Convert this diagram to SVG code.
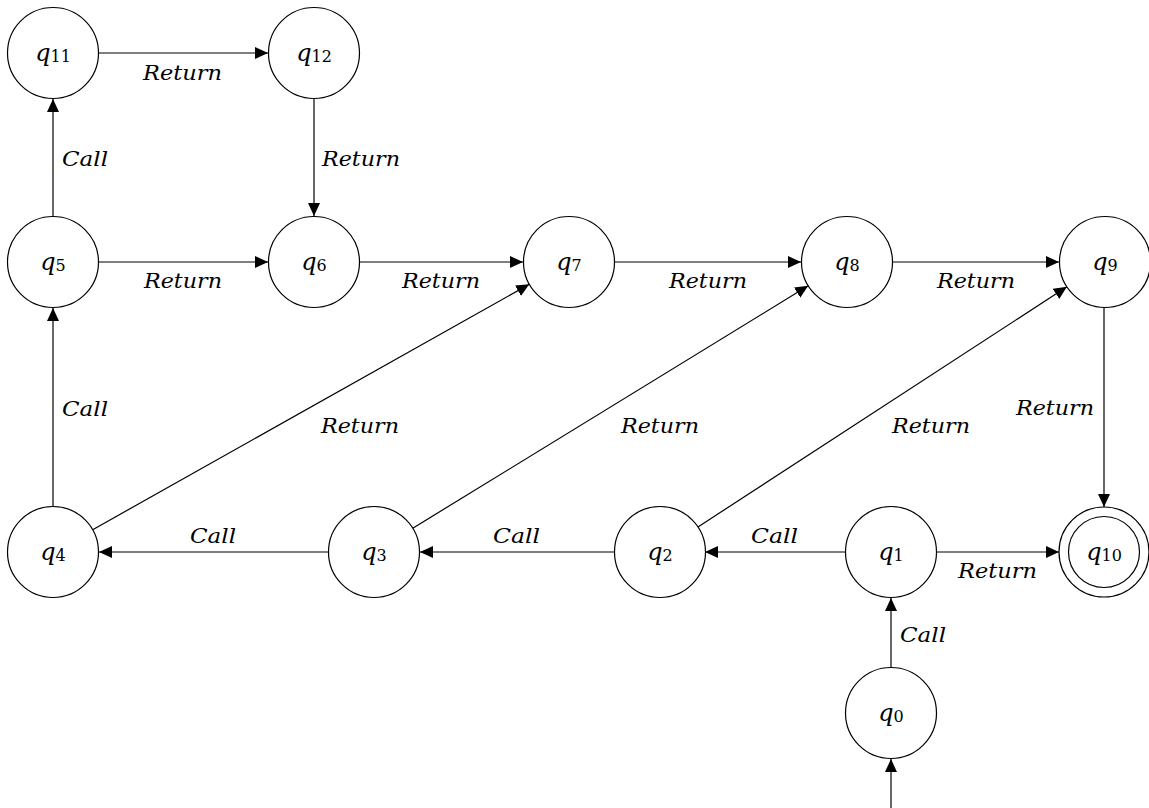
<svg xmlns="http://www.w3.org/2000/svg" width="1149" height="808" viewBox="0 0 1149 808">
  <style>
    .st { fill: #fff; stroke: #000; stroke-width: 1.2; }
    .ed { fill: none; stroke: #000; stroke-width: 1.2; marker-end: url(#ah); }
    .nm { font-family: "DejaVu Serif", "Liberation Serif", serif; font-size: 24px; font-style: italic; fill: #000; text-anchor: middle; }
    .nm .sub { font-size: 16px; font-style: normal; }
    .lb { font-family: "DejaVu Serif", "Liberation Serif", serif; font-size: 20px; font-style: italic; fill: #000; }
  </style>
  <defs>
    <marker id="ah" markerUnits="userSpaceOnUse" markerWidth="14" markerHeight="12" refX="13" refY="6" orient="auto">
      <path d="M0,0 L13,6 L0,12 z" fill="#000"/>
    </marker>
  </defs>
  <rect width="1149" height="808" fill="#fff"/>

  <!-- transitions -->
  <g id="edges">
    <line class="ed" x1="99" y1="53" x2="268" y2="53"/>
    <line class="ed" x1="314" y1="99" x2="314" y2="216"/>
    <line class="ed" x1="53" y1="216" x2="53" y2="99"/>
    <line class="ed" x1="99" y1="262" x2="268" y2="262"/>
    <line class="ed" x1="360" y1="262" x2="523" y2="262"/>
    <line class="ed" x1="615" y1="262" x2="801" y2="262"/>
    <line class="ed" x1="893" y1="262" x2="1059" y2="262"/>
    <line class="ed" x1="1104" y1="308" x2="1104" y2="507"/>
    <line class="ed" x1="53" y1="506" x2="53" y2="308"/>
    <line class="ed" x1="92.7" y1="529.7" x2="529.3" y2="284.3"/>
    <line class="ed" x1="412.8" y1="528.2" x2="808.2" y2="285.8"/>
    <line class="ed" x1="697.6" y1="527.2" x2="1066.9" y2="286.8"/>
    <line class="ed" x1="328" y1="552" x2="99" y2="552"/>
    <line class="ed" x1="614" y1="552" x2="420" y2="552"/>
    <line class="ed" x1="846" y1="552" x2="705" y2="552"/>
    <line class="ed" x1="937" y1="552" x2="1059" y2="552"/>
    <line class="ed" x1="891" y1="668" x2="891" y2="598"/>
    <line class="ed" x1="891" y1="808" x2="891" y2="759"/>

    <text class="lb" x="143" y="80" textLength="79" lengthAdjust="spacingAndGlyphs">Return</text>
    <text class="lb" x="322" y="166" textLength="78" lengthAdjust="spacingAndGlyphs">Return</text>
    <text class="lb" x="62" y="166" textLength="46" lengthAdjust="spacingAndGlyphs">Call</text>
    <text class="lb" x="144" y="288" textLength="78" lengthAdjust="spacingAndGlyphs">Return</text>
    <text class="lb" x="402" y="288" textLength="78" lengthAdjust="spacingAndGlyphs">Return</text>
    <text class="lb" x="669" y="288" textLength="78" lengthAdjust="spacingAndGlyphs">Return</text>
    <text class="lb" x="937" y="288" textLength="78" lengthAdjust="spacingAndGlyphs">Return</text>
    <text class="lb" x="1016" y="415" textLength="78" lengthAdjust="spacingAndGlyphs">Return</text>
    <text class="lb" x="62" y="416" textLength="46" lengthAdjust="spacingAndGlyphs">Call</text>
    <text class="lb" x="321" y="433" textLength="78" lengthAdjust="spacingAndGlyphs">Return</text>
    <text class="lb" x="621" y="433" textLength="78" lengthAdjust="spacingAndGlyphs">Return</text>
    <text class="lb" x="892" y="433" textLength="78" lengthAdjust="spacingAndGlyphs">Return</text>
    <text class="lb" x="190" y="543" textLength="46" lengthAdjust="spacingAndGlyphs">Call</text>
    <text class="lb" x="493" y="543" textLength="47" lengthAdjust="spacingAndGlyphs">Call</text>
    <text class="lb" x="751" y="543" textLength="47" lengthAdjust="spacingAndGlyphs">Call</text>
    <text class="lb" x="958" y="578" textLength="79" lengthAdjust="spacingAndGlyphs">Return</text>
    <text class="lb" x="900" y="642" textLength="46" lengthAdjust="spacingAndGlyphs">Call</text>
  </g>

  <!-- states -->
  <g id="q11"><circle class="st" cx="53" cy="53" r="45.5"/><text class="nm" x="53" y="61">q<tspan class="sub" dy="1">11</tspan></text></g>
  <g id="q12"><circle class="st" cx="314" cy="53" r="45.5"/><text class="nm" x="314" y="61">q<tspan class="sub" dy="1">12</tspan></text></g>
  <g id="q5"><circle class="st" cx="53" cy="262" r="45.5"/><text class="nm" x="53" y="270">q<tspan class="sub" dy="1">5</tspan></text></g>
  <g id="q6"><circle class="st" cx="314" cy="262" r="45.5"/><text class="nm" x="314" y="270">q<tspan class="sub" dy="1">6</tspan></text></g>
  <g id="q7"><circle class="st" cx="569" cy="262" r="45.5"/><text class="nm" x="569" y="270">q<tspan class="sub" dy="1">7</tspan></text></g>
  <g id="q8"><circle class="st" cx="847" cy="262" r="45.5"/><text class="nm" x="847" y="270">q<tspan class="sub" dy="1">8</tspan></text></g>
  <g id="q9"><circle class="st" cx="1105" cy="262" r="45.5"/><text class="nm" x="1105" y="270">q<tspan class="sub" dy="1">9</tspan></text></g>
  <g id="q4"><circle class="st" cx="53" cy="552" r="45.5"/><text class="nm" x="53" y="560">q<tspan class="sub" dy="1">4</tspan></text></g>
  <g id="q3"><circle class="st" cx="374" cy="552" r="45.5"/><text class="nm" x="374" y="560">q<tspan class="sub" dy="1">3</tspan></text></g>
  <g id="q2"><circle class="st" cx="660" cy="552" r="45.5"/><text class="nm" x="660" y="560">q<tspan class="sub" dy="1">2</tspan></text></g>
  <g id="q1"><circle class="st" cx="891" cy="552" r="45.5"/><text class="nm" x="891" y="560">q<tspan class="sub" dy="1">1</tspan></text></g>
  <g id="q10"><circle class="st" cx="1104" cy="552" r="45"/><circle class="st" cx="1104" cy="552" r="35.5"/><text class="nm" x="1104" y="560">q<tspan class="sub" dy="1">10</tspan></text></g>
  <g id="q0"><circle class="st" cx="891" cy="713" r="45.5"/><text class="nm" x="891" y="721">q<tspan class="sub" dy="1">0</tspan></text></g>
</svg>
